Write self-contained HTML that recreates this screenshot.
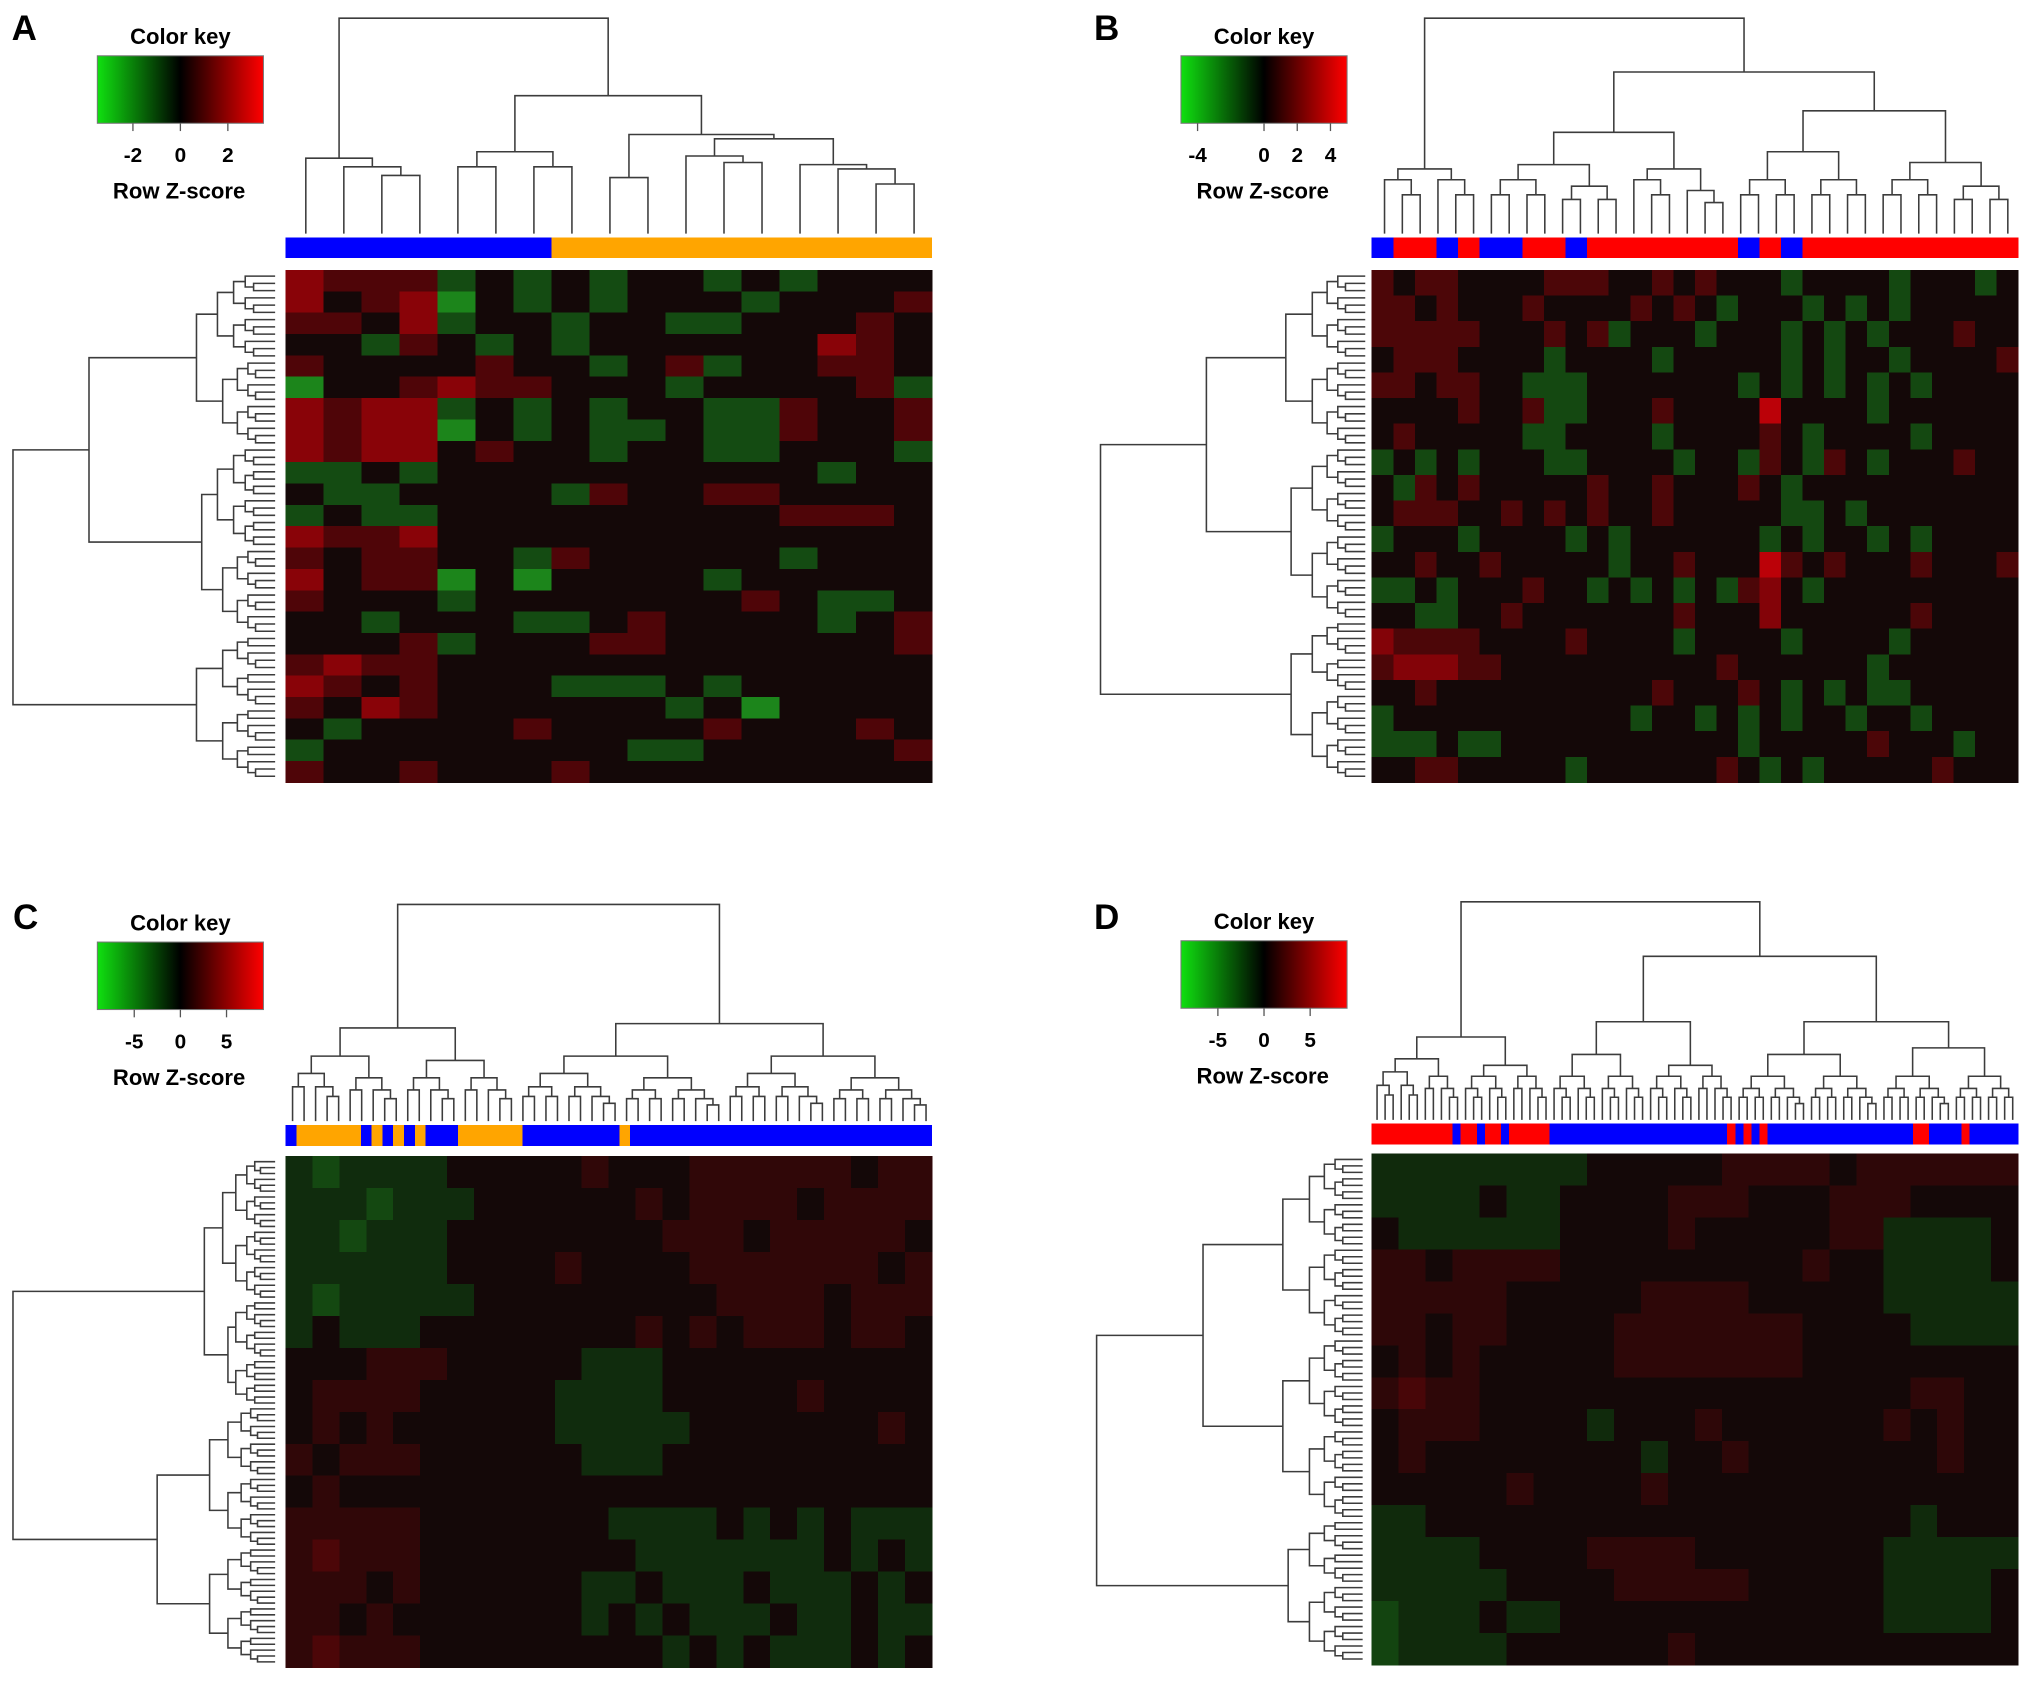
<!DOCTYPE html>
<html><head><meta charset="utf-8"><title>Heatmaps</title>
<style>html,body{margin:0;padding:0;background:#fff;}svg{display:block;}</style></head>
<body>
<svg id="fig" xmlns="http://www.w3.org/2000/svg" width="2031" height="1683" viewBox="0 0 1565 1297" preserveAspectRatio="none"></svg>
<script>
// ---------- DATA ----------
const panelLetters = ["A","B","C","D"];
const keyTicksA = [-2,0,2];
const keyTicksB = [-4,0,2,4];
const keyTicksC = [-5,0,5];
const keyTicksD = [-5,0,5];
const keyRangeA = [-3.5,3.5];
const keyRangeB = [-5,5];
const keyRangeC = [-9,9];
const keyRangeD = [-9,9];
const groupsA = "BBBBBBBOOOOOOOOOO";
const groupsB = "BRRBRBBRRBRRRRRRRBRBRRRRRRRRRR";
const groupsC = "BOOOOOOBOBOBOBBBOOOOOOBBBBBBBBBOBBBBBBBBBBBBBBBBBBBBBBBBBBBB";
const groupsD = "RRRRRRRRRRBRRBRRBRRRRRBBBBBBBBBBBBBBBBBBBBBBRBRBRBBBBBBBBBBBBBBBBBBRRBBBBRBBBBBB";
const valuesA = [
"54442323233232333","53451323233323334","44352332332233343","33243232333333543",
"43333433234233443","13345443332333342","54552323233224334","54551323223224334",
"54553433233223332","22323333333333233","32233332433443333","23223333333334443",
"54453333333333333","43443324333332333","53441313333233333","43332333333343223",
"33233322343333234","33342333443333334","45443333333333333","54343332223233333",
"43543333332313333","32333343333433343","23333333322333334","43343334333333333"];
const valuesB = [
"434433334443343433323333233323","443433343333434323332323233333","444443334342333233323232333433",
"344433332333323333323233233334","443443322233333332323232323333","333343342233343333633332333333",
"343333322333323333432333323333","232323332233332332432432333433","324343333343343334323333333333",
"344433434343343333322323333333","233323333232333333232332323333","334334333332334333643433343334",
"223233343323232324532333333333","332233433333334333533333343333","544443333433332333323333233333",
"455544333333333343333332333333","334333333333343334323232233333","233333333333233232323323323333",
"222322333333333332333334333233","334433333233333343232333334333"];
const valuesC = [
"212222333334333444444344","222122233333343444434444","221222333333334443444443","222222333343333444444434",
"212222233333333344443444","232223333333343434443443","333444333332223333333333","344443333322223333343333",
"343433333322222333333343","434443333332223333333333","343333333333333333333333","444443333333222232323222",
"454443333333322222223232","444343333332232223222323","443433333332323222322322","454443333333332323222323"];
const valuesD = [
"222222223333344443444444","222232233334443334443333","322222233334333334422223","443444433333333343322223",
"444443333344443333322222","443443333444444433332222","343433333444444433333333","454433333333333333334433",
"344433332333433333343433","343333333323343333333433","333334333343333333333333","223333333333333333332333",
"222233334444333333322222","222223333444443333322223","122232233333333333322223","122223333334333333333333"];

// ---------- HELPERS ----------
const NS = "http://www.w3.org/2000/svg";
const svg = document.getElementById("fig");
const FONT = '"Liberation Sans", Arial, sans-serif';
function el(tag, attrs, parent){
  const e = document.createElementNS(NS, tag);
  for (const k in attrs) e.setAttribute(k, attrs[k]);
  (parent||svg).appendChild(e);
  return e;
}
function bal(n, h){ if (n <= 1) return 0; const a = Math.floor(n/2); return [h, bal(a, h*0.72), bal(n-a, h*0.72)]; }
function countLeaves(t){ return t === 0 ? 1 : countLeaves(t[1]) + countLeaves(t[2]); }
function heatColor(v, s){
  const t = Math.min(1, Math.abs(v)/3) * s;
  if (v < 0) return "rgb(" + Math.round(12+25*t) + "," + Math.round(16+185*t) + "," + Math.round(8+30*t) + ")";
  return "rgb(" + Math.round(20+185*t) + "," + Math.round(8*(1-t)) + ",8)";
}
function drawTree(tree, o, g){
  const n = countLeaves(tree);
  let idx = 0;
  let d = "";
  const hp = h => o.base - h * (o.base - o.top);
  function rec(node){
    if (node === 0){ const p = o.a0 + (idx + 0.5) * (o.a1 - o.a0) / n; idx++; return {p:p, h:0}; }
    const L = rec(node[1]), R = rec(node[2]), h = node[0];
    if (o.vertical){
      d += "M" + L.p + " " + hp(L.h) + "V" + hp(h) + "H" + R.p + "V" + hp(R.h);
    } else {
      d += "M" + hp(L.h) + " " + L.p + "H" + hp(h) + "V" + R.p + "H" + hp(R.h);
    }
    return {p:(L.p+R.p)/2, h:h};
  }
  rec(tree);
  const path = el("path", {d:d, fill:"none", stroke:"#3c3c3c", "stroke-width":1.2}, g);
  
  
}

// ---------- PANELS ----------
const panels = [
 {letter:"A", lx:9, ly:31, kx:75, ky:43, ticks:keyTicksA, range:keyRangeA, bandY:183, hmY:208, hmBottom:603, x0:220,
  groups:groupsA, groupColors:{B:"#0000ff",O:"#ffa500"}, values:valuesA, s:0.95, colTop:14, rowRight:212, rowLeft:10,
  colTree:[1,[.35,0,[.31,0,[.27,0,0]]],[.64,[.38,[.31,0,0],[.31,0,0]],[.46,[.26,0,0],[.44,[.36,0,[.33,0,0]],[.32,0,[.3,0,[.23,0,0]]]]]]],
  colA0:221, colA1:719,
  rowTree:[1,[.71,[.3,bal(12,.22),bal(12,.2)],[.28,bal(14,.22),bal(12,.2)]],[.3,bal(10,.2),bal(10,.2)]]},
 {letter:"B", lx:843, ly:31, kx:910, ky:43, ticks:keyTicksB, range:keyRangeB, bandY:183, hmY:208, hmBottom:603, x0:1057,
  groups:groupsB, groupColors:{B:"#0000ff",R:"#ff0000"}, values:valuesB, s:0.9, colTop:14, rowRight:1052, rowLeft:848,
  colTree:[1,[.3,bal(3,.25),bal(3,.25)],[.75,[.47,[.32,bal(4,.25),bal(4,.22)],[.3,bal(3,.25),bal(3,.2)]],[.57,[.38,bal(4,.25),bal(4,.25)],[.33,bal(4,.25),bal(4,.22)]]]],
  colA0:1060, colA1:1554,
  rowTree:[1,[.6,[.3,bal(12,.2),bal(12,.2)],[.28,bal(12,.2),bal(12,.2)]],[.28,bal(10,.2),bal(12,.2)]]},
 {letter:"C", lx:10, ly:716, kx:75, ky:726, ticks:keyTicksC, range:keyRangeC, bandY:867, hmY:891, hmBottom:1285, x0:220,
  groups:groupsC, groupColors:{B:"#0000ff",O:"#ffa500"}, values:valuesC, s:0.45, colTop:697, rowRight:212, rowLeft:10,
  colTree:[1,[.43,[.3,bal(5,.22),bal(5,.2)],[.28,bal(5,.2),bal(5,.2)]],[.45,[.3,bal(9,.22),bal(9,.2)],[.3,bal(9,.22),bal(9,.2)]]],
  colA0:221, colA1:718,
  rowTree:[1,[.27,[.2,bal(12,.15),bal(12,.15)],[.18,bal(10,.15),bal(8,.15)]],[.45,[.25,bal(12,.18),bal(12,.18)],[.25,bal(10,.18),bal(10,.18)]]]},
 {letter:"D", lx:843, ly:716, kx:910, ky:725, ticks:keyTicksD, range:keyRangeD, bandY:866, hmY:889, hmBottom:1283, x0:1057,
  groups:groupsD, groupColors:{B:"#0000ff",R:"#ff0000"}, values:valuesD, s:0.42, colTop:695, rowRight:1050, rowLeft:845,
  colTree:[1,[.38,[.28,bal(6,.22),bal(5,.2)],[.25,bal(6,.2),bal(5,.2)]],[.75,[.45,[.3,bal(6,.2),bal(6,.2)],[.25,bal(6,.2),bal(5,.2)]],[.45,[.3,bal(9,.2),bal(9,.2)],[.33,bal(9,.2),bal(8,.2)]]]],
  colA0:1058, colA1:1554,
  rowTree:[1,[.6,[.3,bal(14,.2),bal(14,.2)],[.3,bal(14,.2),bal(14,.2)]],[.28,bal(10,.2),bal(12,.2)]]}
];

const defs = el("defs", {});
panels.forEach(function(P, pi){
  const g = el("g", {});
  
  
  const W = 498;

  const lt = el("text", {x:P.lx, y:P.ly, "font-family":FONT, "font-weight":"bold", "font-size":27, fill:"#000"}, g);
  lt.textContent = P.letter;
  
  

  const kw = 128, kh = 52;
  const zeroFrac = (0 - P.range[0]) / (P.range[1] - P.range[0]);
  const grad = el("linearGradient", {id:"kg"+pi, x1:0, x2:1, y1:0, y2:0}, defs);
  el("stop", {offset:0, "stop-color":"#10e010"}, grad);
  el("stop", {offset:zeroFrac, "stop-color":"#000"}, grad);
  el("stop", {offset:1, "stop-color":"#ff0000"}, grad);
  const kt = el("text", {x:P.kx+kw/2, y:P.ky-9, "text-anchor":"middle", "font-family":FONT, "font-weight":"bold", "font-size":17}, g);
  kt.textContent = "Color key";
  
  
  const kb = el("rect", {x:P.kx, y:P.ky, width:kw, height:kh, fill:"url(#kg"+pi+")", stroke:"#777", "stroke-width":0.8}, g);
  
  
  const kscale = v => P.kx + (v - P.range[0]) / (P.range[1] - P.range[0]) * kw;
  P.ticks.forEach(function(t){
    const tx = kscale(t);
    const tl = el("line", {x1:tx, x2:tx, y1:P.ky+kh, y2:P.ky+kh+6, stroke:"#555", "stroke-width":1}, g);
    
    
    const tt = el("text", {x:tx, y:P.ky+kh+30, "text-anchor":"middle", "font-family":FONT, "font-weight":"bold", "font-size":16}, g);
    tt.textContent = String(t);
    
    
  });
  const rz = el("text", {x:P.kx+kw/2-1, y:P.ky+kh+58, "text-anchor":"middle", "font-family":FONT, "font-weight":"bold", "font-size":17}, g);
  rz.textContent = "Row Z-score";
  
  

  const ng = P.groups.length, gw = W / ng;
  for (let i = 0; i < ng; i++){
    const r = el("rect", {x:P.x0 + i*gw, y:P.bandY, width:gw+0.3, height:16, fill:P.groupColors[P.groups[i]], "shape-rendering":"crispEdges"}, g);
    
    
  }

  const rows = P.values.length;
  const cols = P.values[0].length;
  const H = P.hmBottom - P.hmY;
  const xs = i => P.x0 + i * W / cols;
  const ys = j => P.hmY + j * H / rows;
  for (let j = 0; j < rows; j++){
    for (let i = 0; i < cols; i++){
      const v = parseInt(P.values[j].charAt(i) || "3", 10) - 3;
      const c = el("rect", {x:xs(i), y:ys(j), width:W/cols+0.4, height:H/rows+0.4, fill:heatColor(v, P.s), "shape-rendering":"crispEdges"}, g);
      
      
    }
  }

  drawTree(P.colTree, {vertical:true, a0:P.colA0, a1:P.colA1, base:P.bandY-3, top:P.colTop, name:'column-dendrogram'}, g);
  drawTree(P.rowTree, {vertical:false, a0:P.hmY+2, a1:P.hmBottom-2, base:P.rowRight, top:P.rowLeft, name:'row-dendrogram'}, g);
});
</script>
</body></html>
